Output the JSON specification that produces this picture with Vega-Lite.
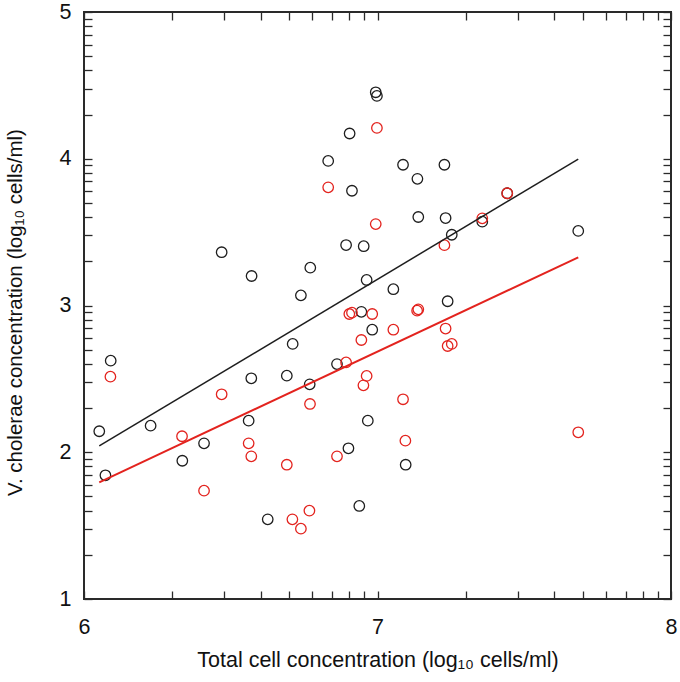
{
  "$schema": "https://vega.github.io/schema/vega-lite/v6.json",
  "width": 587,
  "height": 587,
  "autosize": {"type": "none"},
  "padding": {"left": 84, "top": 12, "right": 9, "bottom": 83},
  "background": "white",
  "config": {
    "view": {"stroke": "#2a2a2a", "strokeWidth": 2},
    "font": "Liberation Sans",
    "axis": {
      "domain": false,
      "grid": false,
      "tickColor": "#2a2a2a",
      "tickWidth": 1.3,
      "labelFont": "Liberation Sans",
      "labelFontSize": 21.5,
      "labelColor": "#111",
      "titleFont": "Liberation Sans",
      "titleFontSize": 21.5,
      "titleFontWeight": "normal",
      "titleColor": "#111",
      "labelOverlap": false,
      "labelFlush": false,
      "labelBound": false
    }
  },
  "datasets": {
    "points": [
      {"series": "Vibrio", "total": 6.052, "vc": 2.143},
      {"series": "Vibrio", "total": 6.073, "vc": 1.843},
      {"series": "Vibrio", "total": 6.091, "vc": 2.624},
      {"series": "Vibrio", "total": 6.227, "vc": 2.181},
      {"series": "Vibrio", "total": 6.335, "vc": 1.942},
      {"series": "Vibrio", "total": 6.409, "vc": 2.061},
      {"series": "Vibrio", "total": 6.469, "vc": 3.363},
      {"series": "Vibrio", "total": 6.561, "vc": 2.215},
      {"series": "Vibrio", "total": 6.570, "vc": 2.504},
      {"series": "Vibrio", "total": 6.571, "vc": 3.201},
      {"series": "Vibrio", "total": 6.626, "vc": 1.543},
      {"series": "Vibrio", "total": 6.691, "vc": 2.522},
      {"series": "Vibrio", "total": 6.711, "vc": 2.738},
      {"series": "Vibrio", "total": 6.739, "vc": 3.069},
      {"series": "Vibrio", "total": 6.769, "vc": 2.463},
      {"series": "Vibrio", "total": 6.771, "vc": 3.258},
      {"series": "Vibrio", "total": 6.832, "vc": 3.985},
      {"series": "Vibrio", "total": 6.862, "vc": 2.601},
      {"series": "Vibrio", "total": 6.893, "vc": 3.412},
      {"series": "Vibrio", "total": 6.901, "vc": 2.027},
      {"series": "Vibrio", "total": 6.905, "vc": 4.172},
      {"series": "Vibrio", "total": 6.913, "vc": 3.782},
      {"series": "Vibrio", "total": 6.938, "vc": 1.634},
      {"series": "Vibrio", "total": 6.945, "vc": 2.957},
      {"series": "Vibrio", "total": 6.953, "vc": 3.404},
      {"series": "Vibrio", "total": 6.963, "vc": 3.174},
      {"series": "Vibrio", "total": 6.967, "vc": 2.215},
      {"series": "Vibrio", "total": 6.982, "vc": 2.835},
      {"series": "Vibrio", "total": 6.994, "vc": 4.453},
      {"series": "Vibrio", "total": 6.998, "vc": 4.428},
      {"series": "Vibrio", "total": 7.054, "vc": 3.111},
      {"series": "Vibrio", "total": 7.087, "vc": 3.959},
      {"series": "Vibrio", "total": 7.096, "vc": 1.915},
      {"series": "Vibrio", "total": 7.136, "vc": 3.863},
      {"series": "Vibrio", "total": 7.139, "vc": 3.603},
      {"series": "Vibrio", "total": 7.228, "vc": 3.959},
      {"series": "Vibrio", "total": 7.232, "vc": 3.596},
      {"series": "Vibrio", "total": 7.239, "vc": 3.029},
      {"series": "Vibrio", "total": 7.253, "vc": 3.482},
      {"series": "Vibrio", "total": 7.357, "vc": 3.571},
      {"series": "Vibrio", "total": 7.442, "vc": 3.765},
      {"series": "Vibrio", "total": 7.684, "vc": 3.508},
      {"series": "Red", "total": 6.090, "vc": 2.515},
      {"series": "Red", "total": 6.334, "vc": 2.109},
      {"series": "Red", "total": 6.409, "vc": 1.738},
      {"series": "Red", "total": 6.469, "vc": 2.395},
      {"series": "Red", "total": 6.561, "vc": 2.061},
      {"series": "Red", "total": 6.570, "vc": 1.972},
      {"series": "Red", "total": 6.691, "vc": 1.915},
      {"series": "Red", "total": 6.710, "vc": 1.543},
      {"series": "Red", "total": 6.739, "vc": 1.479},
      {"series": "Red", "total": 6.768, "vc": 1.602},
      {"series": "Red", "total": 6.770, "vc": 2.329},
      {"series": "Red", "total": 6.832, "vc": 3.805},
      {"series": "Red", "total": 6.862, "vc": 1.972},
      {"series": "Red", "total": 6.893, "vc": 2.612},
      {"series": "Red", "total": 6.904, "vc": 2.942},
      {"series": "Red", "total": 6.913, "vc": 2.951},
      {"series": "Red", "total": 6.945, "vc": 2.765},
      {"series": "Red", "total": 6.952, "vc": 2.456},
      {"series": "Red", "total": 6.963, "vc": 2.520},
      {"series": "Red", "total": 6.982, "vc": 2.942},
      {"series": "Red", "total": 6.994, "vc": 3.555},
      {"series": "Red", "total": 6.998, "vc": 4.210},
      {"series": "Red", "total": 7.054, "vc": 2.835},
      {"series": "Red", "total": 7.087, "vc": 2.361},
      {"series": "Red", "total": 7.095, "vc": 2.079},
      {"series": "Red", "total": 7.135, "vc": 2.965},
      {"series": "Red", "total": 7.139, "vc": 2.974},
      {"series": "Red", "total": 7.228, "vc": 3.411},
      {"series": "Red", "total": 7.232, "vc": 2.843},
      {"series": "Red", "total": 7.239, "vc": 2.724},
      {"series": "Red", "total": 7.253, "vc": 2.738},
      {"series": "Red", "total": 7.357, "vc": 3.594},
      {"series": "Red", "total": 7.442, "vc": 3.765},
      {"series": "Red", "total": 7.684, "vc": 2.136}
    ],
    "fits": [
      {"series": "Vibrio", "total": 6.052, "vc": 2.043},
      {"series": "Vibrio", "total": 7.684, "vc": 3.998},
      {"series": "Red", "total": 6.052, "vc": 1.795},
      {"series": "Red", "total": 7.684, "vc": 3.328}
    ]
  },
  "resolve": {"axis": {"x": "independent", "y": "independent"}},
  "layer": [
    {
      "data": {"name": "points"},
      "mark": {"type": "point", "shape": "circle", "filled": false, "size": 110, "strokeWidth": 1.3, "opacity": 1},
      "encoding": {
        "x": {
          "field": "total", "type": "quantitative",
          "scale": {"domain": [6, 8], "nice": false, "zero": false},
          "axis": {
            "orient": "bottom",
            "title": "Total cell concentration (log₁₀ cells/ml)",
            "titlePadding": 12,
            "values": [6, 6.30103, 6.47712, 6.60206, 6.69897, 6.77815, 6.8451, 6.90309, 6.95424, 7, 7.30103, 7.47712, 7.60206, 7.69897, 7.77815, 7.8451, 7.90309, 7.95424, 8],
            "tickSize": -8,
            "labelPadding": 25,
            "labelExpr": "abs(datum.value - round(datum.value)) < 0.001 ? format(datum.value, 'd') : ''",
            "encode": {"ticks": {"update": {"y2": {"signal": "abs(datum.value - round(datum.value)) < 0.001 ? -8 : -4"}}}}
          }
        },
        "y": {
          "field": "vc", "type": "quantitative",
          "scale": {"domain": [1, 5], "nice": false, "zero": false},
          "axis": {
            "orient": "left",
            "title": "V. cholerae concentration (log₁₀ cells/ml)",
            "titleFontSize": 20.5,
            "titleY": 300,
            "titlePadding": 34,
            "values": [1, 1.30103, 1.47712, 1.60206, 1.69897, 1.77815, 1.8451, 1.90309, 1.95424, 2, 2.30103, 2.47712, 2.60206, 2.69897, 2.77815, 2.8451, 2.90309, 2.95424, 3, 3.30103, 3.47712, 3.60206, 3.69897, 3.77815, 3.8451, 3.90309, 3.95424, 4, 4.30103, 4.47712, 4.60206, 4.69897, 4.77815, 4.8451, 4.90309, 4.95424, 5],
            "tickSize": -8,
            "labelPadding": 21,
            "labelExpr": "abs(datum.value - round(datum.value)) < 0.001 ? format(datum.value, 'd') : ''",
            "encode": {"ticks": {"update": {"x2": {"signal": "abs(datum.value - round(datum.value)) < 0.001 ? 8 : 4"}}}}
          }
        },
        "color": {
          "field": "series", "type": "nominal",
          "scale": {"domain": ["Vibrio", "Red"], "range": ["#1e1e1e", "#e3231e"]},
          "legend": null
        }
      }
    },
    {
      "data": {"name": "fits"},
      "mark": {"type": "line"},
      "encoding": {
        "x": {
          "field": "total", "type": "quantitative",
          "scale": {"domain": [6, 8], "nice": false, "zero": false},
          "axis": {
            "orient": "top",
            "title": null,
            "labels": false,
            "values": [6, 6.30103, 6.47712, 6.60206, 6.69897, 6.77815, 6.8451, 6.90309, 6.95424, 7, 7.30103, 7.47712, 7.60206, 7.69897, 7.77815, 7.8451, 7.90309, 7.95424, 8],
            "tickSize": -8,
            "encode": {"ticks": {"update": {"y2": {"signal": "abs(datum.value - round(datum.value)) < 0.001 ? 8 : 4"}}}}
          }
        },
        "y": {
          "field": "vc", "type": "quantitative",
          "scale": {"domain": [1, 5], "nice": false, "zero": false},
          "axis": {
            "orient": "right",
            "title": null,
            "labels": false,
            "values": [1, 1.30103, 1.47712, 1.60206, 1.69897, 1.77815, 1.8451, 1.90309, 1.95424, 2, 2.30103, 2.47712, 2.60206, 2.69897, 2.77815, 2.8451, 2.90309, 2.95424, 3, 3.30103, 3.47712, 3.60206, 3.69897, 3.77815, 3.8451, 3.90309, 3.95424, 4, 4.30103, 4.47712, 4.60206, 4.69897, 4.77815, 4.8451, 4.90309, 4.95424, 5],
            "tickSize": -8,
            "encode": {"ticks": {"update": {"x2": {"signal": "abs(datum.value - round(datum.value)) < 0.001 ? -8 : -4"}}}}
          }
        },
        "color": {
          "field": "series", "type": "nominal",
          "scale": {"domain": ["Vibrio", "Red"], "range": ["#1e1e1e", "#e3231e"]},
          "legend": null
        },
        "strokeWidth": {
          "field": "series", "type": "nominal",
          "scale": {"domain": ["Vibrio", "Red"], "range": [1.5, 2]},
          "legend": null
        },
        "detail": {"field": "series", "type": "nominal"}
      }
    }
  ]
}
